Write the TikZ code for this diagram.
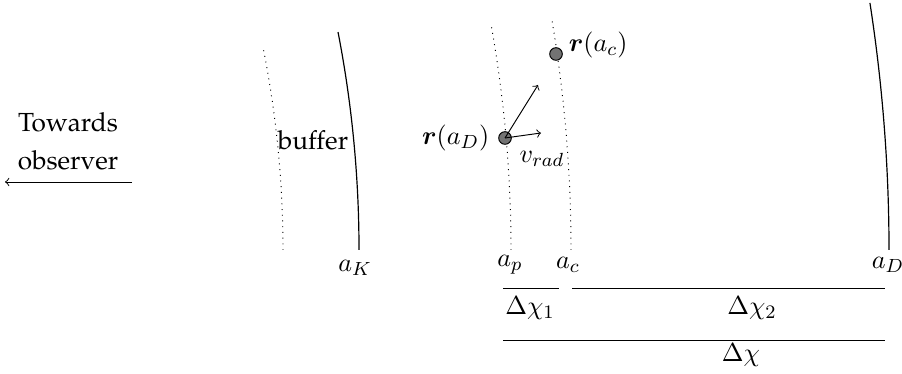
\documentclass[tikz,border=0pt]{standalone}
\usepackage[T1]{fontenc}
\usepackage{amsmath}
\usepackage{palatino}
\begin{document}
\begin{tikzpicture}[x=0.42pt,y=0.42pt,
  lbl/.style={font=\fontsize{11}{16}\selectfont, inner sep=1pt},
  particle/.style={circle,draw,fill=black!55,inner sep=0pt,minimum size=5.3pt},
  vec/.style={->},
  surf/.style={line width=0.5pt},
  shell/.style={dotted},
  span/.style={line width=0.4pt}
]
\useasboundingbox (0,0) rectangle (902,374);

% observer
\node[lbl, align=center] (obs) at (68,233) {Towards\\observer};
\coordinate (obsR) at (132,192);
\coordinate (obsL) at (5,192);
\draw[vec] (obsR) -- (obsL);

% curves (bottom points)
\coordinate (bufB) at (283,124);
\coordinate (aKB) at (359,124);
\coordinate (apB) at (511,124);
\coordinate (acB) at (571,124);
\coordinate (aDB) at (889,124);
\draw[shell] (bufB) arc[start angle=0, delta angle=11.26, radius=1040];
\draw[surf] (aKB) arc[start angle=0, delta angle=11.0, radius=1142];
\draw[shell] (apB) arc[start angle=0, delta angle=10.11, radius=1287];
\draw[shell] (acB) arc[start angle=0, delta angle=9.44, radius=1402];
\draw[surf] (aDB) arc[start angle=0, delta angle=8.8, radius=1615];

% labels
\node[lbl] (buf) at (313,234) {buffer};
\node[lbl] (laK) at (355,106) {$a_K$};
\node[lbl] (lap) at (510,109) {$a_p$};
\node[lbl] (lac) at (568,109) {$a_c$};
\node[lbl] (laD) at (888,109) {$a_D$};

% particles
\node[particle] (pD) at (505,236) {};
\node[particle] (pc) at (556,320) {};
\node[lbl, anchor=east] (rD) at (492,236) {$\boldsymbol{r}(a_D)$};
\node[lbl, anchor=west] (rc) at (566,329) {$\boldsymbol{r}(a_c)$};
\coordinate (t1) at (538,289);
\coordinate (t2) at (541,241);
\draw[vec] (pD.center) -- (t1);
\draw[vec] (pD.center) -- (t2);
\node[lbl] (vrad) at (542,215) {$v_{rad}$};

% distances
\coordinate (d1L) at (503,86);
\coordinate (d1R) at (559,86);
\coordinate (d2L) at (572,86);
\coordinate (d2R) at (885,86);
\coordinate (dL) at (503,34);
\coordinate (dR) at (885,34);
\draw[span] (d1L) -- (d1R);
\draw[span] (d2L) -- (d2R);
\draw[span] (dL) -- (dR);
\node[lbl] (ld1) at (530,66) {$\Delta\chi_1$};
\node[lbl] (ld2) at (752,66) {$\Delta\chi_2$};
\node[lbl] (ld) at (741,19) {$\Delta\chi$};
\end{tikzpicture}
\end{document}
